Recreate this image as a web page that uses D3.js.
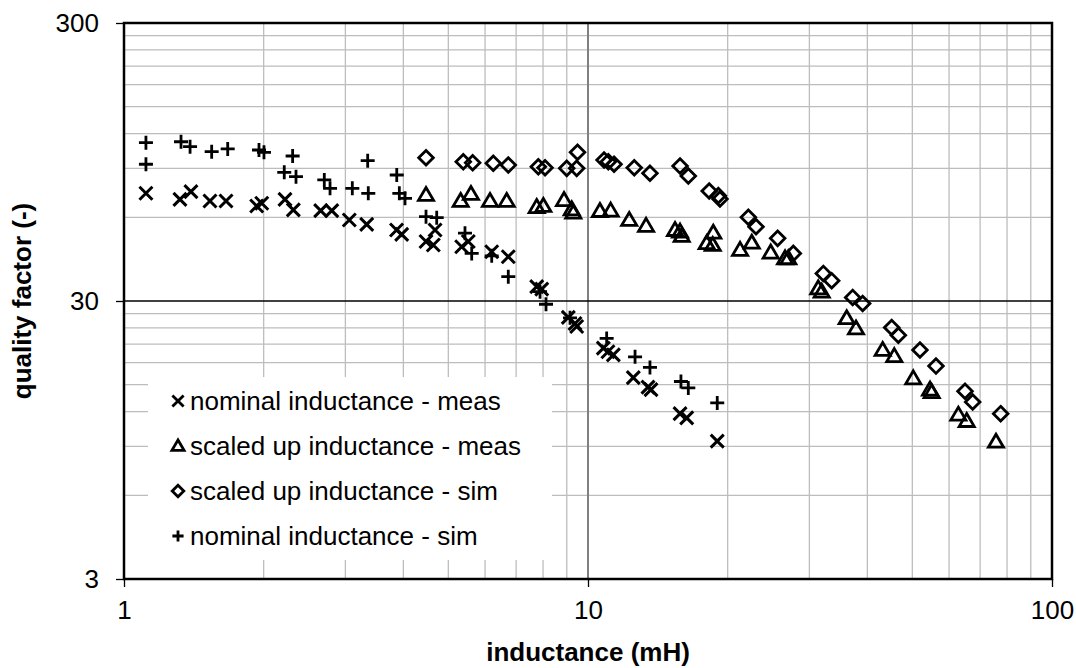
<!DOCTYPE html>
<html><head><meta charset="utf-8">
<script src="https://cdn.jsdelivr.net/npm/d3@7"></script>
<style>
html,body{margin:0;padding:0;background:#fff;}
svg{display:block;font-family:"Liberation Sans",Arial,sans-serif;}
</style></head>
<body><svg id="c" width="1076" height="668"></svg>
<script>
// ---- data (inductance mH, quality factor) ----
const nominalMeas = [
 [1.115,73.2],[1.32,69.6],[1.394,74.2],[1.532,68.7],[1.659,68.7],[1.932,65.9],[1.981,67.4],
 [2.223,69.6],[2.317,63.8],[2.654,63.4],[2.804,63.4],[3.059,58.7],[3.335,56.6],[3.867,54.0],
 [3.967,52.1],[4.476,49.1],[4.641,47.7],[4.681,54.0],[5.343,47.0],[5.521,49.1],[6.201,45.1],
 [6.733,43.3],[7.753,33.8],[7.948,33.1],[9.07,26.2],[9.375,24.9],[9.454,24.3],[10.79,20.3],
 [11.04,19.7],[11.34,19.2],[12.52,15.9],[13.47,14.7],[13.67,14.4],[15.79,11.8],[16.32,11.4],[18.99,9.4]
];
const scaledMeas = [
 [4.476,72.2],[5.316,68.7],[5.594,72.8],[6.149,68.7],[6.68,68.7],[7.753,65.3],[8.012,65.9],
 [8.878,69.2],[9.224,64.1],[9.296,62.3],[10.61,63.2],[11.19,63.4],[12.27,58.7],[13.34,55.9],
 [15.4,54.0],[15.79,53.3],[15.92,51.4],[18.02,48.4],[18.62,52.8],[18.57,47.7],[21.27,45.8],
 [22.54,48.6],[24.76,44.8],[26.59,42.7],[27.02,42.7],[31.35,33.3],[31.89,32.4],[36.1,26.0],
 [37.81,23.9],[43.16,20.0],[45.72,19.0],[50.24,15.8],[54.59,14.4],[55.05,14.1],[62.83,11.7],
 [65.49,11.1],[75.73,9.35]
];
const scaledSim = [
 [4.476,98.3],[5.385,95.1],[5.642,94.3],[6.25,93.9],[6.733,92.5],[7.815,91.2],[8.08,90.5],
 [8.998,90.0],[9.454,90.0],[9.493,102.8],[10.83,96.4],[11.06,95.1],[11.38,93.1],[12.58,90.5],
 [13.6,86.4],[15.79,91.8],[16.45,84.5],[18.25,74.6],[19.09,71.8],[19.25,69.8],[22.16,60.0],
 [23.02,55.5],[25.63,50.4],[27.7,44.5],[32.15,37.7],[33.51,35.5],[37.19,30.9],[39.08,29.4],
 [45.13,24.1],[46.65,22.6],[51.93,20.0],[56.23,17.5],[64.94,14.2],[67.46,13.0],[77.51,11.8]
];
const nominalSim = [
 [1.115,111.3],[1.115,93.1],[1.327,112.2],[1.388,107.7],[1.545,103.3],[1.673,105.7],[1.954,104.8],
 [2.003,102.8],[2.309,99.7],[2.215,87.1],[2.348,84.0],[2.702,81.8],[2.78,76.3],[3.105,76.3],
 [3.351,95.9],[3.361,73.2],[3.871,85.2],[3.921,73.2],[4.033,70.2],[4.476,60.3],[4.72,59.8],
 [5.431,52.6],[5.615,44.5],[6.201,43.6],[6.733,36.7],[7.882,32.4],[8.119,29.2],[9.147,26.1],
 [10.97,22.0],[12.63,18.9],[13.6,17.3],[15.86,15.4],[16.45,14.6],[18.99,12.9]
];
const xTicks = [1, 10, 100];
const yTicks = [3, 30, 300];
const xMinorGrid = [2,3,4,5,6,7,8,9,20,30,40,50,60,70,80,90];
const yMinorGrid = [6,9,12,15,18,21,24,27,60,90,120,150,180,210,240,270];
const legendLabels = ["nominal inductance - meas","scaled up inductance - meas","scaled up inductance - sim","nominal inductance - sim"];
const xTitle = "inductance (mH)";
const yTitle = "quality factor (-)";

// ---- layout ----
const L = 124, R = 1052, T = 23, B = 579;
const svg = d3.select("#c");
const x = d3.scaleLog().domain([1,100]).range([L,R]);
const y = d3.scaleLog().domain([3,300]).range([B,T]);

// minor grid
const g = svg.append("g");
g.selectAll(".vx").data(xMinorGrid).join("line")
 .attr("x1",d=>x(d)).attr("x2",d=>x(d)).attr("y1",T).attr("y2",B)
 .attr("stroke","#bdbdbd").attr("stroke-width",1.3);
g.selectAll(".hy").data(yMinorGrid).join("line")
 .attr("y1",d=>y(d)).attr("y2",d=>y(d)).attr("x1",L).attr("x2",R)
 .attr("stroke","#bdbdbd").attr("stroke-width",1.3);
// major grid
g.append("line").attr("x1",x(10)).attr("x2",x(10)).attr("y1",T).attr("y2",B)
 .attr("stroke","#808080").attr("stroke-width",2);
g.append("line").attr("y1",y(30)).attr("y2",y(30)).attr("x1",L).attr("x2",R)
 .attr("stroke","#000").attr("stroke-width",1.3);

// axes
const xAxis = d3.axisBottom(x).tickValues(xTicks).tickFormat(d3.format("d")).tickSize(8).tickPadding(14);
const yAxis = d3.axisLeft(y).tickValues(yTicks).tickFormat(d3.format("d")).tickSize(8).tickPadding(17);
const xa = svg.append("g").attr("transform",`translate(0,${B})`).call(xAxis);
const ya = svg.append("g").attr("transform",`translate(${L},0)`).call(yAxis);
[xa,ya].forEach(a=>{
  a.select(".domain").remove();
  a.selectAll(".tick line").attr("stroke","#000").attr("stroke-width",1.3);
  a.selectAll("text").attr("font-size",26).attr("fill","#000").attr("font-family","Liberation Sans, Arial, sans-serif");
});

// plot border
svg.append("rect").attr("x",L).attr("y",T).attr("width",R-L).attr("height",B-T)
 .attr("fill","none").attr("stroke","#000").attr("stroke-width",2.5);

// legend box (white, no border)
svg.append("rect").attr("x",148).attr("y",377).attr("width",404).attr("height",183).attr("fill","#fff");

// marker shapes
function markerPath(type, s){
  if(type==="x") return `M${-s},${-s}L${s},${s}M${-s},${s}L${s},${-s}`;
  if(type==="plus") return `M${-s},0L${s},0M0,${-s}L0,${s}`;
  if(type==="tri") { const h=s*1.8, w=s*1.05; return `M0,${-h*0.58}L${w},${h*0.42}L${-w},${h*0.42}Z`; }
  if(type==="dia") return `M0,${-s}L${s},0L0,${s}L${-s},0Z`;
}
const series = [
  {data:nominalMeas, type:"x", s:6.5, sw:3},
  {data:scaledMeas, type:"tri", s:7.2, sw:2.8},
  {data:scaledSim, type:"dia", s:7.3, sw:2.8},
  {data:nominalSim, type:"plus", s:7, sw:2.8}
];
const drawOrder = [series[1], series[2], series[0], series[3]];
drawOrder.forEach(se=>{
  svg.append("g").selectAll("path").data(se.data).join("path")
   .attr("transform",d=>`translate(${x(d[0])},${y(d[1])})`)
   .attr("d",markerPath(se.type,se.s))
   .attr("fill","none").attr("stroke","#000").attr("stroke-width",se.sw);
});

// legend
const legY = [401, 446, 491, 536];
const leg = svg.append("g");
series.forEach((se,i)=>{
  leg.append("path").attr("transform",`translate(178,${legY[i]})`)
   .attr("d",markerPath(se.type, se.type==="tri"?5.8:(se.type==="dia"?5.8:5.6)))
   .attr("fill","none").attr("stroke","#000").attr("stroke-width",2.8);
  leg.append("text").attr("x",190).attr("y",legY[i]+9).attr("font-size",26).text(legendLabels[i]);
});

// axis titles
svg.append("text").attr("x",(L+R)/2).attr("y",661).attr("text-anchor","middle")
 .attr("font-size",26).attr("font-weight","bold").text(xTitle);
svg.append("text").attr("transform",`translate(31,${(T+B)/2}) rotate(-90)`).attr("text-anchor","middle")
 .attr("font-size",26).attr("font-weight","bold").text(yTitle);
</script></body></html>
